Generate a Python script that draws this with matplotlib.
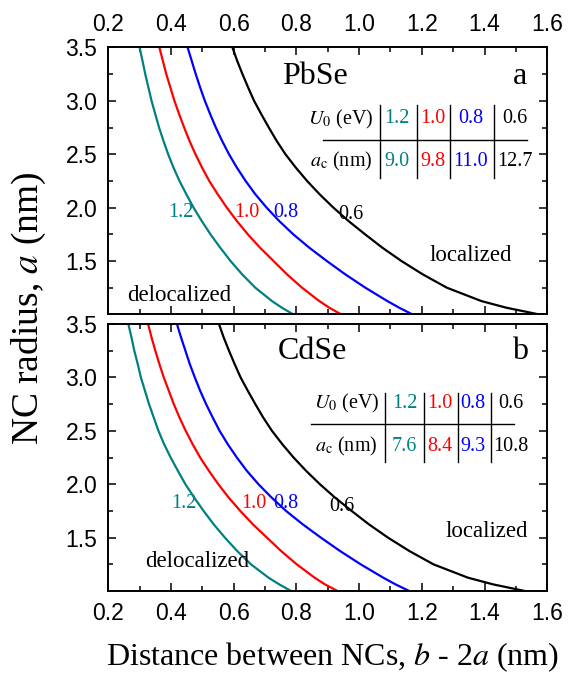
import matplotlib
matplotlib.use("Agg")
import matplotlib.pyplot as plt
from matplotlib.ticker import MultipleLocator

plt.rcParams["font.family"] = ["Liberation Serif", "DejaVu Serif"]
plt.rcParams["mathtext.fontset"] = "stix"

# NC radius a (nm) at which each critical-distance curve was sampled
A_NM = [3.5, 3.375, 3.25, 3.125, 3.0, 2.875, 2.75, 2.625, 2.5, 2.375, 2.25,
        2.125, 2.0, 1.875, 1.75, 1.625, 1.5, 1.375, 1.25, 1.125, 1.0625, 1.0]

U0_EV = ["1.2", "1.0", "0.8", "0.6"]
COLORS = ["#008080", "#ff0000", "#0000ff", "#000000"]

# critical distance b - 2a (nm), one list per U0
PBSE_DIST = [
    [0.300, 0.309, 0.318, 0.328, 0.338, 0.350, 0.362, 0.376, 0.391, 0.408, 0.427,
     0.449, 0.472, 0.498, 0.526, 0.557, 0.590, 0.627, 0.669, 0.722, 0.754, 0.790],
    [0.363, 0.374, 0.385, 0.398, 0.411, 0.426, 0.442, 0.459, 0.478, 0.499, 0.522,
     0.549, 0.578, 0.610, 0.645, 0.684, 0.727, 0.770, 0.818, 0.873, 0.905, 0.943],
    [0.453, 0.466, 0.479, 0.493, 0.508, 0.525, 0.543, 0.563, 0.585, 0.610, 0.638,
     0.669, 0.705, 0.745, 0.790, 0.841, 0.897, 0.956, 1.020, 1.090, 1.128, 1.170],
    [0.596, 0.611, 0.628, 0.646, 0.665, 0.688, 0.712, 0.737, 0.765, 0.798, 0.834,
     0.874, 0.918, 0.966, 1.019, 1.074, 1.135, 1.203, 1.280, 1.390, 1.470, 1.574],
]
CDSE_DIST = [
    [0.264, 0.274, 0.283, 0.294, 0.304, 0.317, 0.330, 0.345, 0.360, 0.378, 0.399,
     0.422, 0.446, 0.474, 0.504, 0.536, 0.572, 0.611, 0.655, 0.711, 0.745, 0.783],
    [0.327, 0.338, 0.350, 0.363, 0.377, 0.393, 0.409, 0.427, 0.447, 0.469, 0.493,
     0.521, 0.551, 0.584, 0.621, 0.661, 0.706, 0.751, 0.801, 0.858, 0.891, 0.931],
    [0.419, 0.432, 0.446, 0.460, 0.476, 0.493, 0.512, 0.533, 0.555, 0.581, 0.610,
     0.642, 0.679, 0.721, 0.767, 0.820, 0.878, 0.939, 1.005, 1.077, 1.116, 1.160],
    [0.553, 0.568, 0.585, 0.603, 0.622, 0.645, 0.669, 0.694, 0.722, 0.755, 0.791,
     0.831, 0.875, 0.923, 0.976, 1.031, 1.092, 1.160, 1.237, 1.347, 1.427, 1.529],
]
PBSE_AC = ["9.0", "9.8", "11.0", "12.7"]
CDSE_AC = ["7.6", "8.4", "9.3", "10.8"]

SANS = ["Liberation Sans", "DejaVu Sans"]


def style_axes(ax, top_labels):
    ax.set_xlim(0.2, 1.6)
    ax.set_ylim(1.0, 3.5)
    ax.xaxis.set_major_locator(MultipleLocator(0.2))
    ax.xaxis.set_minor_locator(MultipleLocator(0.1))
    ax.set_yticks([1.5, 2.0, 2.5, 3.0, 3.5])
    ax.yaxis.set_minor_locator(MultipleLocator(0.25))
    ax.tick_params(which="both", direction="in", top=True, bottom=True,
                   left=True, right=True, width=1.1,
                   labeltop=top_labels, labelbottom=not top_labels)
    ax.tick_params(which="major", length=6, labelsize=16.5, pad=8)
    ax.tick_params(which="minor", length=3.5)
    for lab in ax.get_xticklabels() + ax.get_yticklabels():
        lab.set_family(SANS)
    for s in ax.spines.values():
        s.set_linewidth(1.4)


def panel(ax, dist, name, letter, ac, name_xy, curve_lbl, lbl_y, deloc, loc, tab):
    for xs, c in zip(dist, COLORS):
        ax.plot(xs, A_NM, color=c, lw=1.6)
    ax.text(name_xy[0], name_xy[1], name, fontsize=23, ha="center", va="center")
    ax.text(1.513, name_xy[1], letter, fontsize=23, ha="center", va="center")
    for x, y, t, c in zip(curve_lbl, lbl_y, U0_EV, COLORS):
        ax.text(x, y, t, color=c, fontsize=14.5, ha="center", va="center")
    ax.text(deloc[0], deloc[1], "delocalized", fontsize=16.5, ha="center", va="center")
    ax.text(loc[0], loc[1], "localized", fontsize=16.5, ha="center", va="center")

    # U0 / a_c table
    row1, row2, hline, vlines, vy, hx, colx, headx = tab
    ax.text(headx, row1, r"$U_{\mathrm{0}}$ (eV)", fontsize=14.5, ha="center", va="center")
    ax.text(headx, row2, r"$a_{\mathrm{c}}$ (nm)", fontsize=14.5, ha="center", va="center")
    for x, u, a, c in zip(colx, U0_EV, ac, COLORS):
        ax.text(x, row1, u, color=c, fontsize=14.5, ha="center", va="center")
        ax.text(x, row2, a, color=c, fontsize=14.5, ha="center", va="center")
    ax.plot(hx, [hline, hline], color="k", lw=1.0)
    for x in vlines:
        ax.plot([x, x], vy, color="k", lw=1.0)


fig = plt.figure(figsize=(5.69, 6.73), dpi=100)
ax1 = fig.add_axes([0.1903, 0.5328, 0.7715, 0.3967])
ax2 = fig.add_axes([0.1903, 0.1218, 0.7715, 0.3967])

panel(ax1, PBSE_DIST, "PbSe", "a", PBSE_AC, (0.860, 3.23),
      [0.432, 0.642, 0.765, 0.973], [1.955, 1.955, 1.955, 1.94],
      (0.425, 1.18), (1.357, 1.552),
      (2.83, 2.436, 2.638, [1.066, 1.185, 1.290, 1.431], [2.281, 2.963],
       [0.884, 1.535], [1.120, 1.235, 1.355, 1.497], 0.942))
panel(ax2, CDSE_DIST, "CdSe", "b", CDSE_AC, (0.85, 3.24),
      [0.442, 0.665, 0.765, 0.945], [1.82, 1.82, 1.82, 1.79],
      (0.482, 1.28), (1.406, 1.56),
      (2.755, 2.35, 2.56, [1.083, 1.207, 1.316, 1.422], [2.205, 2.85],
       [0.847, 1.495], [1.145, 1.258, 1.364, 1.485], 0.96))

style_axes(ax1, True)
style_axes(ax2, False)

fig.text(29 / 569, 1 - 308 / 673, "NC radius, $a$ (nm)", rotation=90,
         fontsize=27, ha="center", va="center")
fig.text(332 / 569, 1 - 657 / 673, "Distance between NCs, $b$ - 2$a$ (nm)",
         fontsize=23, ha="center", va="center")

fig.savefig("out.png", dpi=100)
